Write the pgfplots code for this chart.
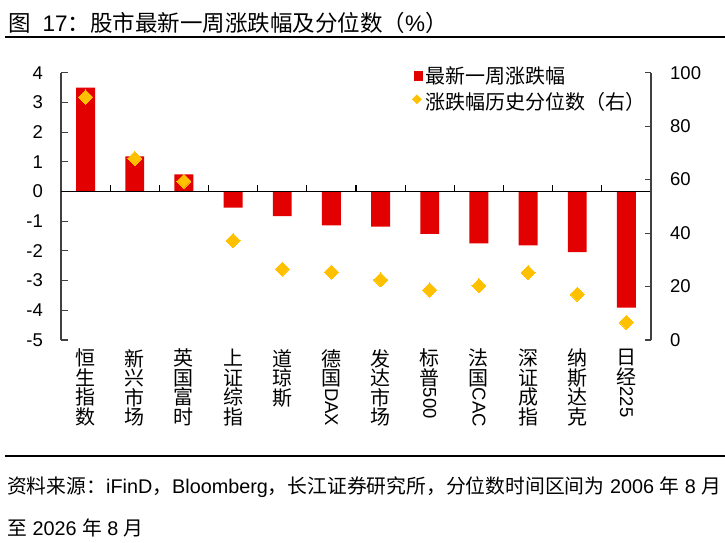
\documentclass[border=0pt]{standalone}
\usepackage{fontspec}
\setmainfont{Liberation Sans}
\newfontfamily\cjk{Noto Sans CJK SC}
\usepackage{graphicx}
\usepackage{pgfplots}
\usepackage{pgfplotstable}
\pgfplotsset{compat=1.18}
\definecolor{barred}{RGB}{226,0,0}
\definecolor{gold}{RGB}{255,192,0}
\definecolor{axgray}{RGB}{64,64,64}
\newcommand\rl[1]{\raisebox{17bp}[0pt]{\rotatebox{-90}{\rmfamily\fontsize{18.5bp}{20bp}\selectfont #1}}}

\pgfplotstableread{
x chg pct
0 3.50 90.9
1 1.18 67.9
2 0.58 59.4
3 -0.54 37.2
4 -0.83 26.5
5 -1.14 25.4
6 -1.18 22.5
7 -1.43 18.7
8 -1.75 20.3
9 -1.81 25.2
10 -2.04 17.1
11 -3.91 6.6
}\datatable

\begin{document}
\begin{tikzpicture}
\useasboundingbox (0,0) rectangle (725bp,543bp);
% title
\node[anchor=base west, inner sep=0pt, font=\fontsize{22.5bp}{26bp}\selectfont] at (8bp,511.3bp)
  {{\cjk 图}\hspace{12bp}17{\cjk ：股市最新一周涨跌幅及分位数（}\%{\cjk ）}};
\fill[black] (5bp,505bp) rectangle (725bp,507bp);
% footer
\fill[black] (5bp,86bp) rectangle (725bp,88bp);
\node[anchor=base west, inner sep=0pt, font=\fontsize{19.8bp}{24bp}\selectfont] at (7bp,49.5bp)
  {{\cjk 资料来源：}iFinD{\cjk ，}Bloomberg{\cjk ，长江证券研究所，分位数时间区间为} 2006 {\cjk 年} 8 {\cjk 月}};
\node[anchor=base west, inner sep=0pt, font=\fontsize{19.8bp}{24bp}\selectfont] at (7bp,8bp)
  {{\cjk 至} 2026 {\cjk 年} 8 {\cjk 月}};

\begin{axis}[
  at={(61bp,203bp)}, anchor=south west,
  scale only axis, width=590bp, height=267.3bp,
  xmin=-0.5, xmax=11.5, ymin=-5, ymax=4,
  axis y line*=left, axis x line*=bottom,
  x axis line style={draw=none},
  y axis line style={axgray, line width=1.1bp},
  xtick={0,...,11},
  xticklabels={{恒\\生\\指\\数},{新\\兴\\市\\场},{英\\国\\富\\时},{上\\证\\综\\指},{道\\琼\\斯},{德\\国\\\rl{DAX}},{发\\达\\市\\场},{标\\普\\\rl{500}},{法\\国\\\rl{CAC}},{深\\证\\成\\指},{纳\\斯\\达\\克},{日\\经\\\rl{225}}},
  xtick style={draw=none},
  ytick={-5,...,4},
  ytick style={axgray, line width=1.1bp},
  tick align=inside, major tick length=7bp,
  /pgf/number format/assume math mode=true,
  yticklabel style={font=\fontsize{18.5bp}{22bp}\selectfont, inner sep=0pt, anchor=east, xshift=-18bp},
  xticklabel style={font=\cjk\fontsize{20bp}{19.5bp}\selectfont, align=center, inner sep=0pt, anchor=north, yshift=-9bp},
  clip=false,
]
\addplot[ybar, bar width=0.386, bar shift=0pt, fill=barred, draw=none] table[x=x,y=chg]{\datatable};
\draw[black, line width=1.3bp] (axis cs:-0.5,0) -- (axis cs:11.5,0);
\pgfplotsinvokeforeach{0.5,1.5,...,10.5}{\draw[black, line width=1.1bp] (axis cs:#1,0) -- ([yshift=6bp]axis cs:#1,0);}
\end{axis}

\begin{axis}[
  at={(61bp,203bp)}, anchor=south west,
  scale only axis, width=590bp, height=267.3bp,
  xmin=-0.5, xmax=11.5, ymin=0, ymax=100,
  axis y line*=right, axis x line=none,
  y axis line style={axgray, line width=1.1bp},
  ytick={0,20,...,100},
  ytick style={axgray, line width=1.1bp},
  tick align=inside, major tick length=6bp,
  /pgf/number format/assume math mode=true,
  yticklabel style={font=\fontsize{18.5bp}{22bp}\selectfont, inner sep=0pt, anchor=west, xshift=19bp},
  legend style={draw=none, fill=none, inner sep=0pt, at={(axis description cs:0.5949,1.026)}, anchor=north west,
    font=\cjk\fontsize{20bp}{24bp}\selectfont, nodes={inner sep=1bp}, row sep=5.5bp,
    /tikz/every odd column/.append style={column sep=2bp}},
  legend cell align=left,
  clip=false,
]
\addlegendimage{legend image code/.code={\fill[barred] (0bp,-4.5bp) rectangle (8bp,4.5bp);}}
\addlegendentry{最新一周涨跌幅}
\addplot[only marks, color=gold, mark=square*, mark size=5bp, mark options={rotate=45, fill=gold, draw=gold, line width=0pt},
  legend image code/.code={\fill[gold, rotate=45] (4bp,0bp) ++(-3.2bp,-3.2bp) rectangle ++(6.4bp,6.4bp);}]
  table[x=x,y=pct]{\datatable};
\addlegendentry{涨跌幅历史分位数（右）}
\end{axis}
\end{tikzpicture}
\end{document}
